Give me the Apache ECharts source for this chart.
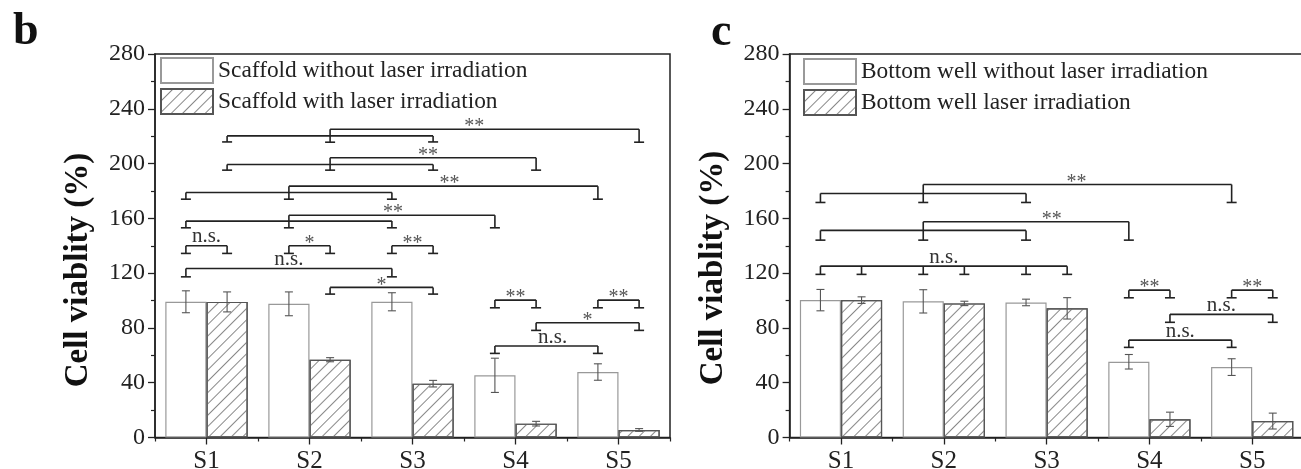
<!DOCTYPE html>
<html><head><meta charset="utf-8">
<script src="https://cdn.jsdelivr.net/npm/echarts@6/dist/echarts.min.js"></script>
<style>html,body{margin:0;padding:0;background:#fff}#c{width:1301px;height:469px}</style>
</head><body><div id="c"></div>
<script>
// ---------- data ----------
const categories = ['S1', 'S2', 'S3', 'S4', 'S5'];
const yMin = 0, yMax = 280, yStep = 40;

const scaffoldNoLaser    = [99.1, 97.6, 99.1, 45.4, 47.8];
const scaffoldNoLaserErr = [8.0, 8.7, 6.6, 12.5, 6.0];
const scaffoldLaser      = [99.0, 56.8, 39.3, 10.1, 5.5];
const scaffoldLaserErr   = [7.3, 1.5, 2.4, 1.7, 1.0];

const wellNoLaser    = [100.3, 99.4, 98.6, 55.3, 51.4];
const wellNoLaserErr = [7.8, 8.5, 2.4, 5.3, 6.1];
const wellLaser      = [100.3, 97.9, 94.3, 13.3, 12.0];
const wellLaserErr   = [2.4, 1.6, 7.8, 5.2, 5.8];

// significance brackets: bars joined (w = without laser, h = with laser), line level, foot level, label, label position (category units)
const scaffoldBrackets = [
  { bars: ['S2h', 'S5h'], top: 225.1, foot: 215.6, label: '**', lx: 2.60 },
  { bars: ['S1h', 'S3h'], top: 220.2, foot: 215.8, label: '' },
  { bars: ['S2h', 'S4h'], top: 204.2, foot: 195.2, label: '**', lx: 2.15 },
  { bars: ['S1h', 'S3h'], top: 199.3, foot: 195.2, label: '' },
  { bars: ['S2w', 'S5w'], top: 183.5, foot: 174.0, label: '**', lx: 2.36 },
  { bars: ['S1w', 'S3w'], top: 178.9, foot: 174.0, label: '' },
  { bars: ['S2w', 'S4w'], top: 162.3, foot: 153.1, label: '**', lx: 1.81 },
  { bars: ['S1w', 'S3w'], top: 158.0, foot: 153.1, label: '' },
  { bars: ['S1w', 'S1h'], top: 140.0, foot: 134.4, label: 'n.s.' },
  { bars: ['S2w', 'S2h'], top: 140.0, foot: 134.4, label: '*' },
  { bars: ['S3w', 'S3h'], top: 140.0, foot: 134.4, label: '**' },
  { bars: ['S1w', 'S3w'], top: 123.4, foot: 117.3, label: 'n.s.' },
  { bars: ['S2h', 'S3h'], top: 109.6, foot: 104.7, label: '*' },
  { bars: ['S4w', 'S4h'], top: 100.3, foot: 94.7, label: '**' },
  { bars: ['S5w', 'S5h'], top: 100.3, foot: 94.7, label: '**' },
  { bars: ['S4h', 'S5h'], top: 83.8, foot: 78.2, label: '*' },
  { bars: ['S4w', 'S5w'], top: 66.8, foot: 61.4, label: 'n.s.', lx: 3.36 }
];
const wellBrackets = [
  { bars: ['S2w', 'S5w'], top: 184.7, foot: 171.6, label: '**', lx: 2.29 },
  { bars: ['S1w', 'S3w'], top: 178.2, foot: 171.6, label: '' },
  { bars: ['S2w', 'S4w'], top: 157.5, foot: 144.1, label: '**', lx: 2.05 },
  { bars: ['S1w', 'S3w'], top: 151.2, foot: 144.1, label: '' },
  { bars: ['S1w', 'S1h', 'S2w', 'S2h', 'S3w', 'S3h'], top: 125.1, foot: 119.1, label: 'n.s.' },
  { bars: ['S4w', 'S4h'], top: 107.6, foot: 102.0, label: '**' },
  { bars: ['S5w', 'S5h'], top: 107.6, foot: 102.0, label: '**' },
  { bars: ['S4h', 'S5h'], top: 89.9, foot: 84.1, label: 'n.s.' },
  { bars: ['S4w', 'S5w'], top: 71.1, foot: 65.8, label: 'n.s.' }
];

const namesB = ['Scaffold without laser irradiation', 'Scaffold with laser irradiation'];
const namesC = ['Bottom well without laser irradiation', 'Bottom well laser irradiation'];
const yTitle = 'Cell viablity (%)';

// ---------- styling / helpers ----------
const FONT = '"Liberation Serif", "Times New Roman", serif';
const INK = '#222';
const HALF = 0.2; // bar centre offset in category units (barGap 0, barCategoryGap 20%)
const hatch = { symbol: 'rect', symbolSize: 1, dashArrayX: [1, 0], dashArrayY: [1, 7], rotation: -Math.PI / 4, color: '#888' };

function barPos(id) {
  return categories.indexOf(id.slice(0, 2)) + (id[2] === 'w' ? -HALF : HALF);
}

function errRender(vals, errs, off) {
  return function (params, api) {
    const i = params.dataIndex;
    const band = api.size([1, 0])[0];
    const x = api.coord([i, 0])[0] + off * band;
    const yh = api.coord([i, vals[i] + errs[i]])[1];
    const yl = api.coord([i, vals[i] - errs[i]])[1];
    const st = { stroke: '#555', lineWidth: 1.1, fill: null };
    return { type: 'group', children: [
      { type: 'line', shape: { x1: x, y1: yh, x2: x, y2: yl }, style: st },
      { type: 'line', shape: { x1: x - 4, y1: yh, x2: x + 4, y2: yh }, style: st },
      { type: 'line', shape: { x1: x - 4, y1: yl, x2: x + 4, y2: yl }, style: st }
    ] };
  };
}

function bracketRender(list) {
  return function (params, api) {
    const b = list[params.dataIndex];
    const band = api.size([1, 0])[0];
    const x0 = api.coord([0, 0])[0];
    const X = p => x0 + p * band;
    const Y = v => api.coord([0, v])[1];
    const xs = b.bars.map(barPos).map(X);
    const xa = Math.min.apply(null, xs), xb = Math.max.apply(null, xs);
    const yt = Y(b.top), yf = Y(b.foot);
    const st = { stroke: INK, lineWidth: 1.6, fill: null };
    const ch = [{ type: 'line', shape: { x1: xa, y1: yt, x2: xb, y2: yt }, style: st }];
    xs.forEach(x => {
      ch.push({ type: 'line', shape: { x1: x, y1: yt, x2: x, y2: yf }, style: st });
      ch.push({ type: 'line', shape: { x1: x - 5, y1: yf, x2: x + 5, y2: yf }, style: st });
    });
    if (b.label) {
      const lx = b.lx != null ? X(b.lx) : (xa + xb) / 2;
      const star = b.label.indexOf('*') >= 0;
      ch.push({ type: 'text', x: lx, y: star ? yt - 2 : yt - 9,
        style: { text: b.label, fill: star ? '#555' : '#333', fontFamily: FONT, fontSize: star ? 20 : 21,
                 align: 'center', verticalAlign: 'middle', textAlign: 'center', textVerticalAlign: 'middle' } });
    }
    return { type: 'group', children: ch };
  };
}

function makeY(gi) {
  return {
    type: 'value', gridIndex: gi, min: yMin, max: yMax, interval: yStep,
    axisLine: { show: true, lineStyle: { color: INK, width: 1.5 } },
    axisTick: { show: true, length: 7, lineStyle: { color: INK, width: 1.3 } },
    minorTick: { show: true, splitNumber: 2, length: 4, lineStyle: { color: INK, width: 1.2 } },
    splitLine: { show: false }, minorSplitLine: { show: false },
    axisLabel: { color: INK, fontFamily: FONT, fontSize: 24, margin: 10 }
  };
}
function makeX(gi) {
  return [{
    type: 'category', gridIndex: gi, data: categories, position: 'bottom',
    axisLine: { show: true, lineStyle: { color: INK, width: 1.5 } },
    axisTick: { show: true, alignWithLabel: true, length: 7, lineStyle: { color: INK, width: 1.3 } },
    axisLabel: { color: INK, fontFamily: FONT, fontSize: 25, margin: 11 },
    splitLine: { show: false }
  }, {
    type: 'category', gridIndex: gi, data: categories, position: 'bottom',
    axisLine: { show: false },
    axisTick: { show: true, alignWithLabel: false, length: 4, lineStyle: { color: INK, width: 1.2 } },
    axisLabel: { show: false }, splitLine: { show: false }
  }];
}
function panelSeries(gi, names, v1, e1, v2, e2, brackets) {
  const xi = gi * 2;
  return [
    { type: 'bar', name: names[0], xAxisIndex: xi, yAxisIndex: gi, data: v1, barGap: '0%', barCategoryGap: '20%',
      itemStyle: { color: '#fff', borderColor: '#999', borderWidth: 1.2 }, z: 2, silent: true },
    { type: 'bar', name: names[1], xAxisIndex: xi, yAxisIndex: gi, data: v2, barGap: '0%', barCategoryGap: '20%',
      itemStyle: { color: '#fff', borderColor: '#555', borderWidth: 1.2, decal: hatch }, z: 3, silent: true },
    { type: 'custom', xAxisIndex: xi, yAxisIndex: gi, renderItem: errRender(v1, e1, -HALF),
      data: v1.map((v, i) => [i, v]), z: 5, silent: true, clip: false },
    { type: 'custom', xAxisIndex: xi, yAxisIndex: gi, renderItem: errRender(v2, e2, HALF),
      data: v2.map((v, i) => [i, v]), z: 5, silent: true, clip: false },
    { type: 'custom', xAxisIndex: xi, yAxisIndex: gi, renderItem: bracketRender(brackets),
      data: brackets.map(b => [0, b.top]), z: 6, silent: true, clip: false }
  ];
}
function legendFor(names, left, top) {
  return {
    data: names, orient: 'vertical', left: left, top: top, padding: 0,
    itemWidth: 52, itemHeight: 25, itemGap: 4, icon: 'rect', selectedMode: false,
    textStyle: { color: INK, fontFamily: FONT, fontSize: 23.4 }
  };
}

const chart = echarts.init(document.getElementById('c'), null, { renderer: 'canvas' });
chart.setOption({
  animation: false,
  backgroundColor: '#fff',
  grid: [
    { left: 155, top: 54, width: 515, height: 383.5, show: true, borderColor: INK, borderWidth: 1.5, backgroundColor: 'transparent', containLabel: false, outerBoundsMode: 'none' },
    { left: 789.6, top: 54, width: 514, height: 383.5, show: true, borderColor: INK, borderWidth: 1.5, backgroundColor: 'transparent', containLabel: false, outerBoundsMode: 'none' }
  ],
  xAxis: makeX(0).concat(makeX(1)),
  yAxis: [makeY(0), makeY(1)],
  legend: [legendFor(namesB, 160, 57), legendFor(namesC, 803, 58)],
  series: panelSeries(0, namesB, scaffoldNoLaser, scaffoldNoLaserErr, scaffoldLaser, scaffoldLaserErr, scaffoldBrackets)
    .concat(panelSeries(1, namesC, wellNoLaser, wellNoLaserErr, wellLaser, wellLaserErr, wellBrackets)),
  graphic: [
    { type: 'text', x: 13, y: 32.4, style: { text: 'b', fill: '#111', font: 'bold 46px ' + FONT, textAlign: 'left', textVerticalAlign: 'middle', align: 'left', verticalAlign: 'middle' } },
    { type: 'text', x: 711, y: 33.4, style: { text: 'c', fill: '#111', font: 'bold 46px ' + FONT, textAlign: 'left', textVerticalAlign: 'middle', align: 'left', verticalAlign: 'middle' } },
    { type: 'text', x: 78, y: 270, rotation: Math.PI / 2, style: { text: yTitle, fill: '#111', font: 'bold 33px ' + FONT, textAlign: 'center', textVerticalAlign: 'middle', align: 'center', verticalAlign: 'middle' } },
    { type: 'text', x: 713, y: 268, rotation: Math.PI / 2, style: { text: yTitle, fill: '#111', font: 'bold 33px ' + FONT, textAlign: 'center', textVerticalAlign: 'middle', align: 'center', verticalAlign: 'middle' } }
  ]
});
</script></body></html>
